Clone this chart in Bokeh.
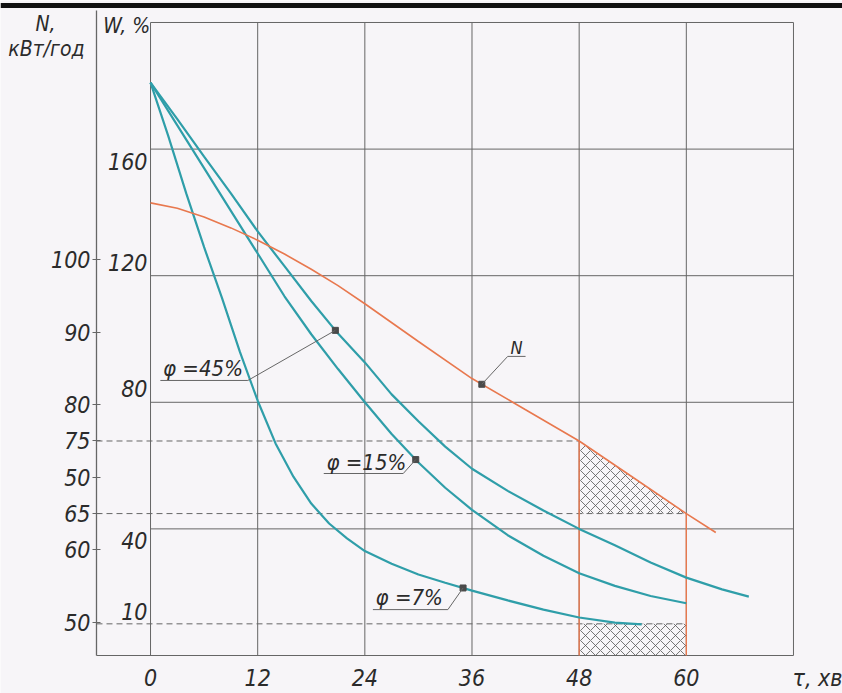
import numpy as np
from bokeh.plotting import figure
from bokeh.models import Range1d, LinearAxis, FixedTicker
from bokeh.core.properties import value
from bokeh.embed import file_html
from bokeh.resources import INLINE

# ---------------- data ----------------
# drying curves W(%) vs time tau for three air humidities
t_phi7 = [0, 2, 4, 6, 8, 10, 12, 14, 16, 18, 20, 22, 24, 27, 30, 33, 36, 40, 44, 48, 52, 55]
W_phi7 = [181, 164, 146, 129, 113, 96, 80.5, 67, 56.5, 48, 41.7, 37, 33, 29, 25.6, 23, 20.5, 17.4, 14.5, 12, 10.4, 9.8]

t_phi15 = [0, 3, 6, 9, 12, 15, 18, 21, 24, 27, 30, 33, 36, 40, 44, 48, 52, 56, 60]
W_phi15 = [181, 167.5, 154, 140.5, 127, 113.5, 101.5, 90.5, 80, 70, 61, 53, 46, 38, 31.5, 26, 22, 18.8, 16.5]

t_phi45 = [0, 3, 6, 9, 12, 15, 18, 21, 24, 27, 30, 33, 36, 40, 44, 48, 52, 56, 60, 64, 67]
W_phi45 = [181, 169.5, 157.6, 146, 134, 123, 112, 101.7, 92.6, 82.5, 74, 66, 59, 52, 45.8, 40, 34.8, 29.4, 24.6, 20.9, 18.6]

# power N (кВт/год) vs time
t_N = [0, 3, 6, 9, 12, 15, 18, 21, 24, 30, 36, 42, 48, 54, 60, 63.3]
N_vals = [107.8, 107.05, 105.85, 104.35, 102.65, 100.75, 98.65, 96.4, 93.9, 88.7, 83.6, 79.3, 75, 70, 65, 62.4]

x_ticks = [0, 12, 24, 36, 48, 60]
x_title = "τ, хв"
W_ticks = [160, 120, 80, 40, 10]
N_ticks = [100, 90, 80, 75, 70, 65, 60, 50]
N_tick_text = {70: "50"}          # printed as "50" on the original
N_levels = [75, 65]                # dashed reference levels of N
W_level = 10                       # dashed reference level of W
t_window = [48, 60]                # hatched time window

# callouts: label, which series, tau of the marked point
callout_text = ["φ =45%", "φ =15%", "φ =7%", "N"]
callout_series = ["phi45", "phi15", "phi7", "N"]
callout_t = [20.7, 29.7, 35.0, 37.1]

# ---------------- styling / layout ----------------
BG = "#f7f5f8"
GRID = "#666666"
TEAL = "#2f9ea9"
ORANGE = "#e8784e"
INK = "#2b2b2b"
FONT = "DejaVu Sans Condensed, Roboto"

T0, T1 = -16.80, 77.49        # whole canvas is the frame
W0, W1 = -12.01, 206.95
N0, N1 = 40.22, 135.67
T_AX = -6.05                   # position of the N axis
T_END, W_TOP = 72, 200

p = figure(width=842, height=693, x_range=Range1d(T0, T1), y_range=Range1d(W0, W1),
           output_backend="svg", toolbar_location=None,
           x_axis_location=None, y_axis_location=None, min_border=0,
           background_fill_color=BG, border_fill_color=BG, outline_line_color=None)
p.grid.visible = False
p.extra_y_ranges = {"N": Range1d(N0, N1)}

# scan border line at the very top
p.segment(x0=[T0], y0=[205.4], x1=[T1], y1=[205.4], line_color="#111111", line_width=5)

# bottom axis (fixed at W = 0)
tau_tick = 75.2
xa = LinearAxis(fixed_location=0, ticker=FixedTicker(ticks=x_ticks + [tau_tick]),
                major_label_overrides={tau_tick: x_title})
xa.axis_line_color = None
xa.major_tick_line_color = None
xa.minor_tick_line_color = None
xa.major_tick_in = 0
xa.major_tick_out = 0
xa.major_label_standoff = 10
xa.major_label_text_font = FONT
xa.major_label_text_font_style = "italic"
xa.major_label_text_font_size = "23px"
xa.major_label_text_color = INK
p.add_layout(xa, "below")

# left N axis (fixed at its own position left of the box)
na = LinearAxis(y_range_name="N", fixed_location=T_AX, ticker=FixedTicker(ticks=N_ticks),
                major_label_overrides=N_tick_text)
na.axis_line_color = None
na.major_tick_line_color = GRID
na.major_tick_in = 4
na.major_tick_out = 4
na.minor_tick_line_color = None
na.major_label_standoff = 2
na.major_label_text_font = FONT
na.major_label_text_font_style = "italic"
na.major_label_text_font_size = "23px"
na.major_label_text_color = INK
p.add_layout(na, "left")
p.segment(x0=[T_AX], y0=[0], x1=[T_AX], y1=[203.8], line_color=GRID, line_width=1.3)

# grid / box
grid_t = x_ticks + [T_END]
grid_W = [40, 80, 120, 160, W_TOP]
p.segment(x0=grid_t, y0=[0] * len(grid_t), x1=grid_t, y1=[W_TOP] * len(grid_t),
          line_color=GRID, line_width=1)
p.segment(x0=[0] * len(grid_W), y0=grid_W, x1=[T_END] * len(grid_W), y1=grid_W,
          line_color=GRID, line_width=1)
p.segment(x0=[T_AX], y0=[0], x1=[T_END], y1=[0], line_color=GRID, line_width=1.2)

# hatched regions
N_at_window = list(np.interp(t_window, t_N, N_vals))
p.patch(x=[t_window[0], t_window[1], t_window[0]],
        y=[N_at_window[0], N_levels[1], N_levels[1]], y_range_name="N",
        fill_alpha=0, line_color=None, hatch_pattern="diagonal_cross",
        hatch_color="#555555", hatch_scale=10, hatch_weight=0.8)
p.quad(left=[t_window[0]], right=[t_window[1]], bottom=[0], top=[W_level],
       fill_alpha=0, line_color=None, hatch_pattern="diagonal_cross",
       hatch_color="#555555", hatch_scale=10, hatch_weight=0.8)

# dashed reference lines
p.segment(x0=[T_AX, T_AX], y0=N_levels, x1=t_window, y1=N_levels, y_range_name="N",
          line_color=GRID, line_width=1, line_dash="6 4")
p.segment(x0=[T_AX], y0=[W_level], x1=[t_window[1]], y1=[W_level],
          line_color=GRID, line_width=1, line_dash="6 4")

# N at the bottom of the box (W = 0)
N_bottom = N0 + (0 - W0) * (N1 - N0) / (W1 - W0)
# orange verticals of the window
p.segment(x0=t_window, y0=N_at_window, x1=t_window, y1=[N_bottom, N_bottom], y_range_name="N",
          line_color=ORANGE, line_width=1.4)

# curves
p.line(t_phi7, W_phi7, line_color=TEAL, line_width=2.2)
p.line(t_phi15, W_phi15, line_color=TEAL, line_width=2.2)
p.line(t_phi45, W_phi45, line_color=TEAL, line_width=2.2)
p.line(t_N, N_vals, y_range_name="N", line_color=ORANGE, line_width=1.6)

# callout markers
series = {"phi7": (t_phi7, W_phi7), "phi15": (t_phi15, W_phi15),
          "phi45": (t_phi45, W_phi45), "N": (t_N, N_vals)}
mk_y = [float(np.interp(t, *series[s])) for t, s in zip(callout_t, callout_series)]
wt = [t for t, s in zip(callout_t, callout_series) if s != "N"]
wy = [y for y, s in zip(mk_y, callout_series) if s != "N"]
p.scatter(wt, wy, marker="square", size=6, color="#4a4a4a")
p.scatter([callout_t[3]], [mk_y[3]], y_range_name="N", marker="square", size=6, color="#4a4a4a")

# callout texts, underlines and leaders (layout in W units)
lay_under_W = [86.9, 57.5, 14.5]
lay_under_t0 = [1.1, 19.4, 24.9]
lay_under_t1 = [10.9, 28.3, 33.3]
lay_text_W = [90.7, 61.0, 18.4]
p.segment(x0=lay_under_t0, y0=lay_under_W, x1=lay_under_t1, y1=lay_under_W,
          line_color=GRID, line_width=1)
p.segment(x0=lay_under_t1, y0=lay_under_W, x1=wt, y1=wy, line_color=GRID, line_width=1)
p.text(x=[t + 0.3 for t in lay_under_t0], y=lay_text_W, text=callout_text[:3],
       text_font=value(FONT), text_font_style="italic", text_font_size="22px",
       text_color=INK, text_baseline="middle", text_align="left")
# N callout
N_under_W, N_under_t0, N_under_t1 = 94.5, 40.0, 42.0
mk_N_in_W = W0 + (mk_y[3] - N0) * (W1 - W0) / (N1 - N0)
p.segment(x0=[N_under_t0], y0=[N_under_W], x1=[N_under_t1], y1=[N_under_W],
          line_color=GRID, line_width=1)
p.segment(x0=[callout_t[3]], y0=[mk_N_in_W], x1=[N_under_t0], y1=[N_under_W],
          line_color=GRID, line_width=1)
p.text(x=[N_under_t0 + 0.3], y=[97.4], text=[callout_text[3]],
       text_font=value(FONT), text_font_style="italic", text_font_size="18px",
       text_color=INK, text_baseline="middle", text_align="left")

# W tick labels (handwritten beside the box edge)
W_label_dy = [12, -13, -14, 12, -12]
for w, dy in zip(W_ticks, W_label_dy):
    p.text(x=[0], y=[w], text=[str(w)], x_offset=-3, y_offset=dy,
           text_font=value(FONT), text_font_style="italic", text_font_size="23px",
           text_color=INK, text_baseline="middle", text_align="right")

# axis titles
p.text(x=[-5.3], y=[199.0], text=["W, %"], text_font=value(FONT), text_font_style="italic",
       text_font_size="21px", text_color=INK, text_baseline="middle", text_align="left")
p.text(x=[-11.76, -11.65], y=[199.4, 191.5], text=["N,", "кВт/год"], text_font=value(FONT),
       text_font_style="italic", text_font_size="21px", text_color=INK,
       text_baseline="middle", text_align="center")

open("out.html", "w").write(file_html(p, INLINE))
